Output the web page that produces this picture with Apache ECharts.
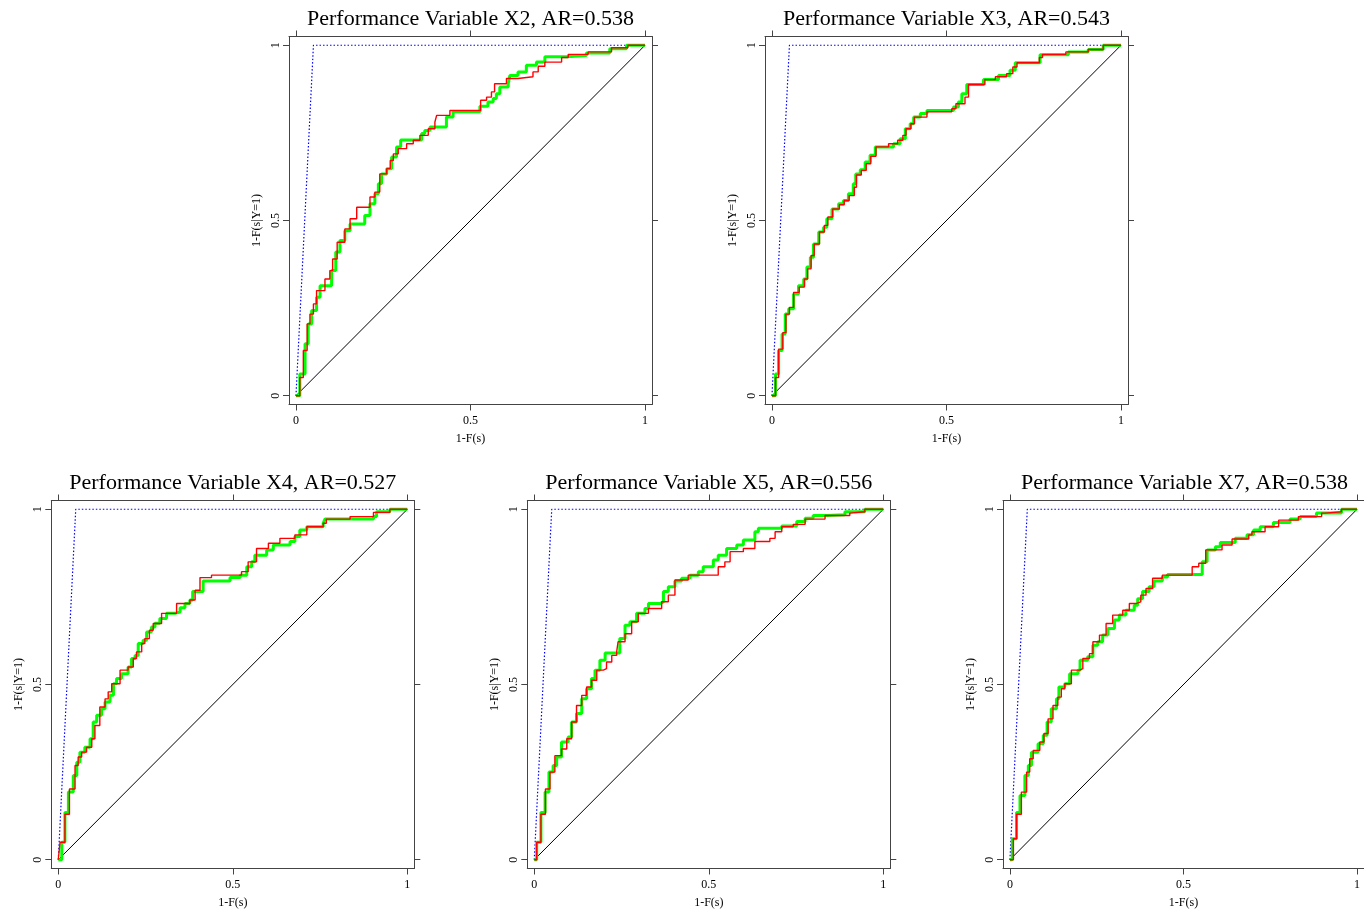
<!DOCTYPE html>
<html>
<head>
<meta charset="utf-8">
<script src="https://cdn.jsdelivr.net/npm/echarts@6/dist/echarts.min.js"></script>
<style>
html,body{margin:0;padding:0;background:#fff;}
#chart{width:1364px;height:913px;}
</style>
</head>
<body>
<div id="chart"></div>
<script>
// ---- data ----
const variables = ['X2', 'X3', 'X4', 'X5', 'X7'];
const arValues = [0.538, 0.543, 0.527, 0.556, 0.538];
const tickValues = [0, 0.5, 1];
const perfectX = 0.05;
const diagonal = [[0, 0], [1, 1]];

const greenX2 = [[0,0],[0.011,0.062],[0.026,0.148],[0.035,0.205],[0.045,0.243],[0.059,0.281],[0.069,0.314],[0.102,0.357],[0.114,0.41],[0.126,0.443],[0.14,0.471],[0.155,0.49],[0.197,0.514],[0.212,0.548],[0.226,0.576],[0.236,0.605],[0.245,0.633],[0.26,0.648],[0.274,0.681],[0.288,0.71],[0.30,0.73],[0.36,0.748],[0.369,0.757],[0.384,0.767],[0.431,0.795],[0.45,0.81],[0.527,0.826],[0.55,0.838],[0.565,0.848],[0.574,0.862],[0.584,0.881],[0.608,0.89],[0.613,0.914],[0.636,0.924],[0.66,0.943],[0.689,0.952],[0.713,0.967],[0.775,0.971],[0.832,0.978],[0.899,0.99],[0.947,1],[1,1]];
const redX2 = [[0,0],[0.011,0.052],[0.021,0.129],[0.032,0.205],[0.04,0.233],[0.05,0.262],[0.059,0.3],[0.083,0.333],[0.097,0.357],[0.105,0.39],[0.118,0.438],[0.14,0.476],[0.155,0.505],[0.174,0.538],[0.212,0.567],[0.226,0.581],[0.24,0.633],[0.26,0.648],[0.27,0.671],[0.279,0.69],[0.293,0.705],[0.317,0.719],[0.336,0.729],[0.355,0.743],[0.379,0.762],[0.398,0.781],[0.403,0.8],[0.441,0.814],[0.529,0.843],[0.546,0.852],[0.56,0.867],[0.569,0.89],[0.603,0.905],[0.636,0.91],[0.679,0.924],[0.694,0.94],[0.713,0.952],[0.761,0.965],[0.78,0.974],[0.837,0.981],[0.904,0.993],[0.951,1],[1,1]];

const greenX3 = [[0,0],[0.01,0.062],[0.019,0.129],[0.029,0.176],[0.038,0.233],[0.048,0.248],[0.062,0.29],[0.076,0.314],[0.091,0.333],[0.1,0.367],[0.11,0.395],[0.119,0.433],[0.134,0.467],[0.148,0.481],[0.157,0.505],[0.172,0.533],[0.191,0.548],[0.205,0.557],[0.219,0.576],[0.233,0.605],[0.24,0.633],[0.253,0.645],[0.267,0.667],[0.281,0.686],[0.296,0.71],[0.348,0.719],[0.367,0.733],[0.382,0.762],[0.396,0.776],[0.406,0.795],[0.425,0.805],[0.444,0.814],[0.52,0.824],[0.534,0.838],[0.544,0.862],[0.558,0.888],[0.606,0.902],[0.649,0.914],[0.682,0.929],[0.697,0.95],[0.768,0.973],[0.849,0.981],[0.906,0.988],[0.949,1],[1,1]];
const redX3 = [[0,0],[0.01,0.052],[0.019,0.133],[0.031,0.18],[0.04,0.233],[0.05,0.252],[0.062,0.295],[0.078,0.31],[0.093,0.333],[0.102,0.362],[0.112,0.4],[0.121,0.433],[0.136,0.467],[0.15,0.486],[0.16,0.51],[0.174,0.533],[0.193,0.545],[0.207,0.557],[0.221,0.571],[0.236,0.595],[0.242,0.63],[0.256,0.643],[0.27,0.662],[0.283,0.683],[0.298,0.71],[0.334,0.719],[0.36,0.729],[0.375,0.743],[0.384,0.762],[0.398,0.776],[0.408,0.795],[0.444,0.81],[0.515,0.819],[0.527,0.833],[0.553,0.852],[0.563,0.888],[0.61,0.902],[0.64,0.91],[0.672,0.919],[0.69,0.938],[0.702,0.95],[0.766,0.965],[0.775,0.974],[0.842,0.981],[0.906,0.988],[0.949,1],[1,1]];

const greenX4 = [[0,0],[0.01,0.05],[0.019,0.135],[0.029,0.193],[0.043,0.24],[0.053,0.278],[0.062,0.307],[0.076,0.321],[0.091,0.345],[0.1,0.393],[0.11,0.412],[0.124,0.431],[0.134,0.45],[0.148,0.469],[0.158,0.502],[0.167,0.517],[0.181,0.531],[0.2,0.55],[0.21,0.574],[0.22,0.583],[0.229,0.617],[0.243,0.626],[0.253,0.65],[0.267,0.664],[0.277,0.675],[0.291,0.688],[0.31,0.703],[0.334,0.707],[0.349,0.719],[0.363,0.731],[0.377,0.741],[0.385,0.765],[0.415,0.795],[0.492,0.805],[0.521,0.812],[0.54,0.836],[0.554,0.85],[0.563,0.869],[0.597,0.884],[0.616,0.898],[0.664,0.908],[0.678,0.922],[0.692,0.941],[0.712,0.95],[0.759,0.96],[0.764,0.972],[0.903,0.979],[0.912,0.993],[0.95,1],[1,1]];
const redX4 = [[0,0],[0.005,0.05],[0.019,0.13],[0.032,0.202],[0.048,0.269],[0.057,0.293],[0.067,0.307],[0.081,0.321],[0.096,0.345],[0.105,0.383],[0.119,0.436],[0.134,0.459],[0.143,0.479],[0.153,0.502],[0.177,0.541],[0.2,0.55],[0.215,0.574],[0.224,0.593],[0.239,0.617],[0.248,0.631],[0.261,0.655],[0.272,0.674],[0.296,0.703],[0.339,0.731],[0.377,0.741],[0.392,0.769],[0.406,0.805],[0.439,0.812],[0.525,0.822],[0.544,0.85],[0.568,0.888],[0.602,0.903],[0.635,0.917],[0.678,0.927],[0.712,0.95],[0.759,0.96],[0.768,0.972],[0.836,0.979],[0.903,0.991],[0.95,1],[1,1]];

const greenX5 = [[0,0],[0.007,0.05],[0.019,0.135],[0.031,0.193],[0.042,0.25],[0.054,0.269],[0.064,0.293],[0.078,0.336],[0.097,0.35],[0.107,0.393],[0.121,0.417],[0.136,0.459],[0.15,0.488],[0.164,0.517],[0.174,0.541],[0.188,0.569],[0.203,0.59],[0.245,0.631],[0.26,0.669],[0.274,0.679],[0.293,0.703],[0.317,0.717],[0.327,0.731],[0.36,0.736],[0.37,0.765],[0.384,0.779],[0.403,0.795],[0.422,0.803],[0.446,0.812],[0.47,0.822],[0.484,0.836],[0.513,0.855],[0.527,0.869],[0.551,0.888],[0.58,0.898],[0.599,0.912],[0.632,0.936],[0.642,0.946],[0.709,0.952],[0.752,0.965],[0.776,0.974],[0.799,0.982],[0.838,0.984],[0.89,0.993],[0.947,1],[1,1]];
const redX5 = [[0,0],[0.007,0.05],[0.019,0.13],[0.032,0.202],[0.045,0.25],[0.059,0.297],[0.078,0.316],[0.093,0.345],[0.107,0.393],[0.121,0.44],[0.136,0.469],[0.15,0.493],[0.164,0.512],[0.179,0.541],[0.198,0.545],[0.207,0.564],[0.222,0.583],[0.236,0.593],[0.24,0.622],[0.26,0.645],[0.279,0.679],[0.298,0.703],[0.327,0.717],[0.365,0.736],[0.384,0.755],[0.403,0.798],[0.441,0.812],[0.527,0.836],[0.546,0.85],[0.561,0.879],[0.599,0.888],[0.632,0.908],[0.675,0.917],[0.69,0.936],[0.709,0.95],[0.742,0.957],[0.776,0.972],[0.833,0.982],[0.904,0.989],[0.909,0.993],[0.947,1],[1,1]];

const greenX7 = [[0,0],[0.007,0.06],[0.019,0.135],[0.029,0.183],[0.043,0.24],[0.053,0.269],[0.062,0.307],[0.081,0.331],[0.096,0.355],[0.107,0.393],[0.119,0.431],[0.134,0.459],[0.141,0.493],[0.158,0.502],[0.172,0.531],[0.196,0.541],[0.202,0.569],[0.224,0.579],[0.239,0.612],[0.253,0.622],[0.267,0.641],[0.282,0.66],[0.301,0.684],[0.315,0.698],[0.334,0.712],[0.358,0.726],[0.368,0.745],[0.382,0.765],[0.401,0.779],[0.415,0.795],[0.439,0.807],[0.454,0.814],[0.554,0.85],[0.568,0.884],[0.592,0.893],[0.606,0.905],[0.649,0.917],[0.683,0.927],[0.702,0.941],[0.721,0.95],[0.759,0.962],[0.807,0.972],[0.836,0.979],[0.883,0.989],[0.955,1],[1,1]];
const redX7 = [[0,0],[0.01,0.06],[0.019,0.13],[0.033,0.193],[0.048,0.25],[0.057,0.288],[0.067,0.312],[0.086,0.336],[0.098,0.36],[0.11,0.402],[0.124,0.44],[0.138,0.464],[0.148,0.488],[0.158,0.502],[0.177,0.541],[0.201,0.545],[0.21,0.574],[0.229,0.588],[0.239,0.622],[0.258,0.641],[0.277,0.674],[0.296,0.698],[0.325,0.712],[0.344,0.731],[0.363,0.736],[0.377,0.755],[0.392,0.774],[0.411,0.803],[0.439,0.812],[0.525,0.836],[0.544,0.846],[0.564,0.884],[0.611,0.898],[0.64,0.915],[0.688,0.927],[0.697,0.936],[0.735,0.95],[0.774,0.969],[0.831,0.979],[0.898,0.989],[0.907,0.993],[0.955,1],[1,1]];

const greenCurves = [greenX2, greenX3, greenX4, greenX5, greenX7];
const redCurves = [redX2, redX3, redX4, redX5, redX7];

// ---- layout ----
const FONT = 'Liberation Serif';
const AXIS_COLOR = '#444';
const boxes = [
  {left: 289, top: 36.5},
  {left: 765, top: 36.5},
  {left: 51.3, top: 500.5},
  {left: 527.3, top: 500.5},
  {left: 1003, top: 500.5}
];
const W = 363, H = 368;

const grid = [], xAxis = [], yAxis = [], series = [], title = [];

function axisBase(gridIndex, position, showLabel, isX) {
  return {
    type: 'value',
    gridIndex: gridIndex,
    position: position,
    min: isX ? -0.02 : -0.025,
    max: isX ? 1.02 : 1.025,
    axisLine: {show: true, onZero: false, lineStyle: {color: AXIS_COLOR, width: 1}},
    axisTick: {show: true, inside: false, length: 6, customValues: tickValues, lineStyle: {color: AXIS_COLOR, width: 1}},
    axisLabel: {show: showLabel, customValues: tickValues, fontFamily: FONT, fontSize: 12, color: '#000',
      margin: isX ? 10 : 7, rotate: isX ? 0 : 90},
    splitLine: {show: false}
  };
}

boxes.forEach((b, i) => {
  grid.push({left: b.left, top: b.top, width: W, height: H, containLabel: false, show: false});
  title.push({
    text: 'Performance Variable ' + variables[i] + ', AR=' + arValues[i].toFixed(3),
    left: b.left + W / 2 - 5,
    top: b.top - 33,
    textAlign: 'center',
    textStyle: {fontFamily: FONT, fontSize: 22, fontWeight: 'normal', color: '#000'}
  });
  const xb = axisBase(i, 'bottom', true, true);
  xb.name = '1-F(s)';
  xb.nameLocation = 'middle';
  xb.nameGap = 28;
  xb.nameTextStyle = {fontFamily: FONT, fontSize: 12, color: '#000', verticalAlign: 'top'};
  xAxis.push(xb);
  xAxis.push(axisBase(i, 'top', false, true));
  const yl = axisBase(i, 'left', true, false);
  yl.name = '1-F(s|Y=1)';
  yl.nameLocation = 'middle';
  yl.nameGap = 26;
  yl.nameTextStyle = {fontFamily: FONT, fontSize: 12, color: '#000'};
  yAxis.push(yl);
  yAxis.push(axisBase(i, 'right', false, false));

  const xi = 2 * i, yi = 2 * i;
  const common = {type: 'line', xAxisIndex: xi, yAxisIndex: yi, symbol: 'none', silent: true, animation: false};
  series.push(Object.assign({}, common, {
    data: [[0, 0], [perfectX, 1], [1, 1]],
    lineStyle: {color: '#0000ff', width: 1.2, type: [1.5, 2]}
  }));
  series.push(Object.assign({}, common, {
    data: diagonal,
    lineStyle: {color: '#000', width: 1}
  }));
  series.push(Object.assign({}, common, {
    data: greenCurves[i], step: 'end',
    lineStyle: {color: '#00ff00', width: 3}
  }));
  series.push(Object.assign({}, common, {
    data: redCurves[i], step: 'end',
    lineStyle: {color: '#ff0000', width: 1.4}
  }));
});

const chart = echarts.init(document.getElementById('chart'), null, {renderer: 'canvas'});
chart.setOption({
  animation: false,
  backgroundColor: '#fff',
  title: title,
  grid: grid,
  xAxis: xAxis,
  yAxis: yAxis,
  series: series
});
</script>
</body>
</html>
